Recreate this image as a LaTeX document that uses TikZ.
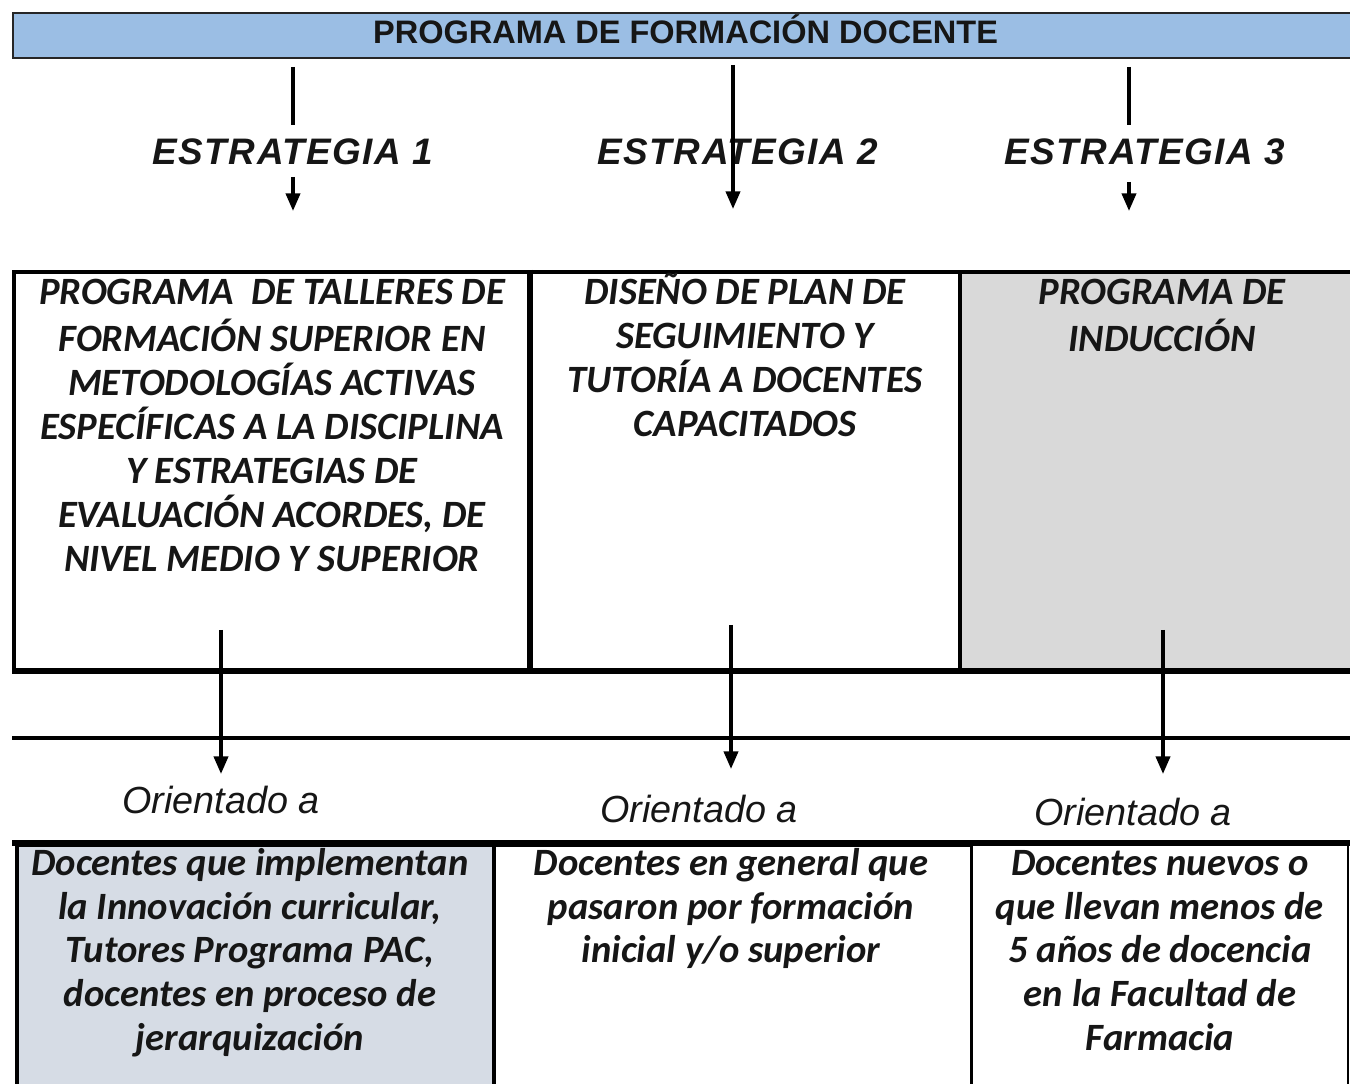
\documentclass[tikz,border=0pt]{standalone}
\usepackage{fontspec}
\setmainfont{Carlito}
\newfontfamily\arialf{Liberation Sans}
\newfontfamily\arialsp{Liberation Sans}[LetterSpace=4]
\usetikzlibrary{arrows.meta}
\definecolor{titleblue}{RGB}{155,190,228}
\definecolor{boxgray}{RGB}{217,217,217}
\definecolor{paleblue}{RGB}{214,220,229}
\definecolor{ink}{RGB}{22,22,22}
\begin{document}
\begin{tikzpicture}[x=0.02cm,y=-0.02cm,
  arr/.style={draw=black,line width=2pt,-{Triangle[width=8pt,length=10pt]}},
  plainline/.style={draw=black,line width=2pt},
  cell/.style={draw=black,line width=2pt,anchor=north west,inner sep=0pt},
  boxtext/.style={font=\fontsize{22}{25}\selectfont\bfseries\itshape,text=ink,align=center,anchor=north,inner sep=0pt},
  strat/.style={font=\arialsp\fontsize{21}{24}\selectfont\bfseries\itshape,text=ink,anchor=base,inner sep=0pt},
  orient/.style={font=\arialf\fontsize{21.5}{24}\selectfont\itshape,text=ink,anchor=base,inner sep=0pt}]
\useasboundingbox (0,0) rectangle (1350,1084);

% title bar
\node[cell,draw=black!85,line width=1.4pt,fill=titleblue,minimum width=26.9cm,minimum height=0.9cm,
  text depth=7pt,font=\arialf\fontsize{18.5}{20}\selectfont\bfseries,text=ink] (title) at (12,12) {PROGRAMA DE FORMACIÓN DOCENTE};

% strategy labels
\node[strat] (e1) at (293,165) {ESTRATEGIA 1};
\node[strat] (e2) at (738,165) {ESTRATEGIA 2};
\node[strat] (e3) at (1145,165) {ESTRATEGIA 3};

% middle boxes
\node[cell,minimum width=10.3cm,minimum height=7.96cm] (m1) at (12,270) {};
\node[cell,minimum width=8.62cm,minimum height=7.96cm] (m2) at (527,270) {};
\node[cell,fill=boxgray,minimum width=7.94cm,minimum height=7.96cm] (m3) at (958,270) {};
\draw[line width=2.8pt] (m1.north east) -- (m1.south east);
\draw[line width=2.6pt] (m1.south west) -- (m3.south east);

\node[boxtext] (t1) at (272,273) {\strut PROGRAMA\ \ DE TALLERES DE\\FORMACIÓN SUPERIOR EN\\METODOLOGÍAS ACTIVAS\\ESPECÍFICAS A LA DISCIPLINA\\Y ESTRATEGIAS DE\\EVALUACIÓN ACORDES, DE\\NIVEL MEDIO Y SUPERIOR};
\node[boxtext] (t2) at (745,273) {\strut DISEÑO DE PLAN DE\\SEGUIMIENTO Y\\TUTORÍA A DOCENTES\\CAPACITADOS};
\node[boxtext] (t3) at (1162,273) {\strut PROGRAMA DE\\INDUCCIÓN};

% separator line
\coordinate (sepL) at (12,738);
\coordinate (sepR) at (1352,738);
\draw[line width=2.6pt] (sepL) -- (sepR);

% orientado labels
\node[orient] (o1) at (221,813) {Orientado a};
\node[orient] (o2) at (699,822) {Orientado a};
\node[orient] (o3) at (1133,825) {Orientado a};

% bottom boxes
\node[cell,fill=paleblue,minimum width=9.54cm,minimum height=5.2cm] (n1) at (15,843) {};
\node[cell,minimum width=9.56cm,minimum height=5.2cm] (n2) at (492,843) {};
\node[cell,line width=1.3pt,minimum width=7.54cm,minimum height=5.2cm] (n3) at (970,843) {};
\draw[line width=3.4pt] (12,843) -- (1352,843);

\node[boxtext] (b1) at (250,844) {\strut Docentes que implementan\\la Innovación curricular,\\Tutores Programa PAC,\\docentes en proceso de\\jerarquización};
\node[boxtext] (b2) at (731,844) {\strut Docentes en general que\\pasaron por formación\\inicial y/o superior};
\node[boxtext] (b3) at (1160,844) {\strut Docentes nuevos o\\que llevan menos de\\5 años de docencia\\en la Facultad de\\Farmacia};

% connectors: title -> strategies
\coordinate (s1a) at (293,67);  \coordinate (s1b) at (293,125);
\coordinate (s1c) at (293,177); \coordinate (s1d) at (293,211);
\coordinate (s2a) at (733,65);  \coordinate (s2d) at (733,209);
\coordinate (s3a) at (1129,67); \coordinate (s3b) at (1129,125);
\coordinate (s3c) at (1129,182);\coordinate (s3d) at (1129,211);
\draw[plainline] (s1a) -- (s1b);
\draw[arr] (s1c) -- (s1d);
\draw[arr] (s2a) -- (s2d);
\draw[plainline] (s3a) -- (s3b);
\draw[arr] (s3c) -- (s3d);

% connectors: boxes -> orientado
\coordinate (d1a) at (221,630); \coordinate (d1b) at (221,774);
\coordinate (d2a) at (731,625); \coordinate (d2b) at (731,769);
\coordinate (d3a) at (1163,630);\coordinate (d3b) at (1163,774);
\draw[arr] (d1a) -- (d1b);
\draw[arr] (d2a) -- (d2b);
\draw[arr] (d3a) -- (d3b);
\end{tikzpicture}
\end{document}
